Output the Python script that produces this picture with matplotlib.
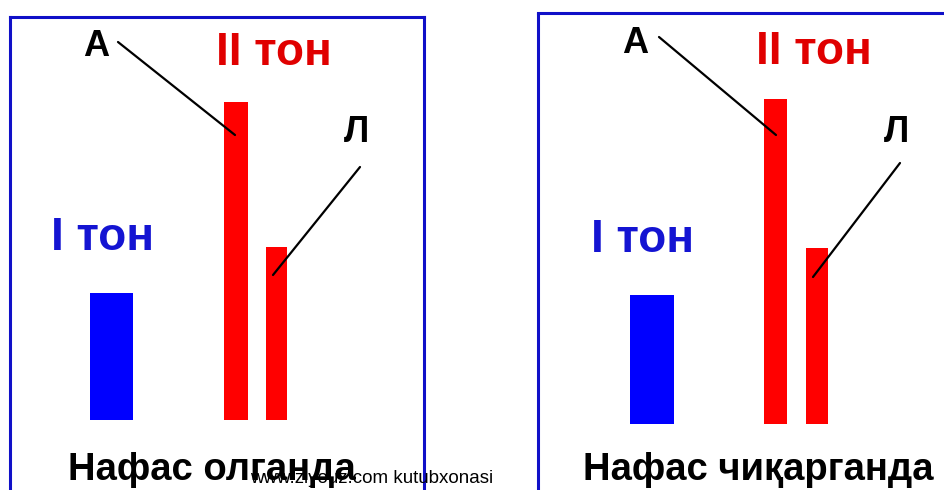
import matplotlib
matplotlib.use("Agg")
import matplotlib.pyplot as plt

# ---- data (bar heights, arbitrary units = px above baseline) ----
bar_labels = ["I тон", "II тон А", "II тон Л"]
inhale_values = [127, 318, 173]
exhale_values = [129, 325, 176]
panel_titles = ["Нафас олганда", "Нафас чиқарганда"]
tone1_label = "I тон"
tone2_label = "II тон"
a_label = "А"
l_label = "Л"
watermark = "www.ziyouz.com kutubxonasi"

BLUE = "#0000ff"
RED = "#ff0000"
BORDER = "#1010c8"
TEXT_BLUE = "#1414d2"
TEXT_RED = "#e00000"

W, H = 944, 490
fig = plt.figure(figsize=(W / 100, H / 100), dpi=100)
fig.patch.set_facecolor("white")

FONT = "Liberation Sans"


def panel(left_px, top_px, base_px, width_px, values, title, lay):
    bottom_px = 515
    ax = fig.add_axes([left_px / W, (H - bottom_px) / H,
                       width_px / W, (bottom_px - top_px) / H])
    ax.set_xlim(0, width_px)
    ax.set_ylim(base_px - bottom_px, base_px - top_px)
    ax.set_xticks([])
    ax.set_yticks([])
    for s in ax.spines.values():
        s.set_color(BORDER)
        s.set_linewidth(2.2)
    ax.set_facecolor("white")
    colors = [BLUE, RED, RED]
    for v, x, w, c in zip(values, lay["x"], lay["w"], colors):
        ax.bar(x, v, width=w, bottom=0, color=c, align="center")
    ax.text(lay["t1"][0], lay["t1"][1], tone1_label, color=TEXT_BLUE,
            fontsize=33, fontweight="bold", family=FONT, ha="center", va="center")
    ax.text(lay["t2"][0], lay["t2"][1], tone2_label, color=TEXT_RED,
            fontsize=33, fontweight="bold", family=FONT, ha="center", va="center")
    ax.text(lay["a"][0], lay["a"][1], a_label, color="black",
            fontsize=26, fontweight="bold", family=FONT, ha="center", va="center")
    ax.text(lay["l"][0], lay["l"][1], l_label, color="black",
            fontsize=26, fontweight="bold", family=FONT, ha="center", va="center")
    ax.plot(*zip(*lay["la"]), color="black", lw=1.6, solid_capstyle="round")
    ax.plot(*zip(*lay["ll"]), color="black", lw=1.6, solid_capstyle="round")
    ax.text(lay["title"][0], lay["title"][1], title, color="black",
            fontsize=27.5, fontweight="bold", family=FONT, ha="center", va="center")
    return ax


lay_left = dict(
    x=[102, 226.5, 267], w=[43, 24, 21],
    t1=(93, 182), t2=(264, 367), a=(86.5, 373), l=(347, 287),
    la=[(108.5, 378), (225.5, 285)], ll=[(350.5, 253), (263.5, 145)],
    title=(202, -50),
)
lay_right = dict(
    x=[114.5, 238, 279.5], w=[44, 23, 22],
    t1=(105, 184), t2=(276.5, 372), a=(97.5, 381), l=(359, 292),
    la=[(121.5, 387), (238.5, 289)], ll=[(362.5, 261), (275.5, 147)],
    title=(221, -46),
)

panel(9.5, 17.5, 420, 414.5, inhale_values, panel_titles[0], lay_left)
panel(537.5, 13.5, 424, 415, exhale_values, panel_titles[1], lay_right)

fig.text(250 / W, 1 - 478 / H, watermark, fontsize=13.5, family=FONT,
         color="black", ha="left", va="center", zorder=10)

fig.savefig("out.png", dpi=100, facecolor="white")
